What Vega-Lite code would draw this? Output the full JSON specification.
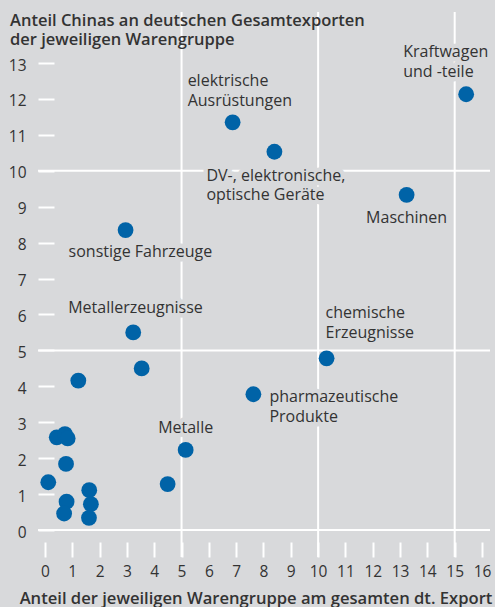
{
  "$schema": "https://vega.github.io/schema/vega-lite/v6.json",
  "width": 452,
  "height": 545,
  "autosize": {"type": "none"},
  "padding": {"left": 38, "top": 12, "right": 5, "bottom": 50},
  "background": "#d8d9db",
  "config": {"view": {"stroke": null}, "font": "Open Sans"},
  "datasets": {
    "punkte": [
      {"gruppe": "Kraftwagen und -teile", "label": ["Kraftwagen", "und -teile"], "x": 15.42, "y": 12.13},
      {"gruppe": "elektrische Ausrüstungen", "label": ["elektrische", "Ausrüstungen"], "x": 6.87, "y": 11.35},
      {"gruppe": "DV-, elektronische, optische Geräte", "label": ["DV-, elektronische,", "optische Geräte"], "x": 8.40, "y": 10.53},
      {"gruppe": "Maschinen", "label": ["Maschinen"], "x": 13.24, "y": 9.33},
      {"gruppe": "sonstige Fahrzeuge", "label": ["sonstige Fahrzeuge"], "x": 2.95, "y": 8.35},
      {"gruppe": "Metallerzeugnisse", "label": ["Metallerzeugnisse"], "x": 3.23, "y": 5.50},
      {"gruppe": "chemische Erzeugnisse", "label": ["chemische", "Erzeugnisse"], "x": 10.31, "y": 4.78},
      {"gruppe": "pharmazeutische Produkte", "label": ["pharmazeutische", "Produkte"], "x": 7.63, "y": 3.78},
      {"gruppe": "Metalle", "label": ["Metalle"], "x": 5.15, "y": 2.23},
      {"gruppe": "", "label": [], "x": 3.54, "y": 4.50},
      {"gruppe": "", "label": [], "x": 1.22, "y": 4.16},
      {"gruppe": "", "label": [], "x": 0.43, "y": 2.58},
      {"gruppe": "", "label": [], "x": 0.73, "y": 2.67},
      {"gruppe": "", "label": [], "x": 0.83, "y": 2.55},
      {"gruppe": "", "label": [], "x": 0.77, "y": 1.84},
      {"gruppe": "", "label": [], "x": 0.12, "y": 1.33},
      {"gruppe": "", "label": [], "x": 0.79, "y": 0.79},
      {"gruppe": "", "label": [], "x": 0.70, "y": 0.46},
      {"gruppe": "", "label": [], "x": 1.62, "y": 1.11},
      {"gruppe": "", "label": [], "x": 1.68, "y": 0.72},
      {"gruppe": "", "label": [], "x": 1.61, "y": 0.34},
      {"gruppe": "", "label": [], "x": 4.49, "y": 1.28}
    ],
    "gx": [{"x": 5}, {"x": 10}, {"x": 15}],
    "gy": [{"y": 0}, {"y": 5}, {"y": 10}]
  },
  "resolve": {"axis": {"x": "independent", "y": "independent"}},
  "layer": [
    {
      "data": {"name": "punkte"},
      "mark": {"type": "circle", "size": 0, "opacity": 0},
      "encoding": {
        "x": {"field": "x", "type": "quantitative", "scale": {"domain": [-0.256, 16.293], "nice": false, "zero": false},
          "axis": {"orient": "bottom", "values": [0, 1, 2, 3, 4, 5, 6, 7, 8, 9, 10, 11, 12, 13, 14, 15, 16], "domain": false, "grid": false,
            "tickColor": "white", "tickWidth": 2, "tickSize": -15, "labelPadding": 22, "labelFont": "Open Sans", "labelFontSize": 15.5, "labelColor": "#333333",
            "labelFlush": false, "labelOverlap": false,
            "title": "Anteil der jeweiligen Warengruppe am gesamten dt. Export", "titleFont": "Open Sans", "titleFontSize": 16.6, "titleFontWeight": 600, "titleColor": "#333333",
            "titleX": 217.5, "titleY": 46, "titleAlign": "center", "titleBaseline": "alphabetic"}},
        "y": {"field": "y", "type": "quantitative", "scale": {"domain": [-0.75, 14.42], "nice": false, "zero": false},
          "axis": {"orient": "left", "values": [], "domain": false, "ticks": false, "labels": false, "grid": false,
            "title": ["Anteil Chinas an deutschen Gesamtexporten", "der jeweiligen Warengruppe"],
            "titleAngle": 0, "titleAlign": "left", "titleBaseline": "alphabetic", "titleX": -28.5, "titleY": 13,
            "titleFont": "Open Sans", "titleFontSize": 16.5, "titleFontWeight": 600, "titleColor": "#d8d9db", "titleLineHeight": 19.5,
            "zindex": 1,
            "encode": {"title": {"update": {"stroke": {"value": "#d8d9db"}, "strokeWidth": {"value": 10}, "strokeJoin": {"value": "round"}}}}}}
      }
    },
    {
      "data": {"name": "punkte"},
      "mark": {"type": "circle", "size": 0, "opacity": 0},
      "encoding": {
        "x": {"field": "x", "type": "quantitative", "axis": null},
        "y": {"field": "y", "type": "quantitative",
          "axis": {"orient": "left", "values": [0, 1, 2, 3, 4, 5, 6, 7, 8, 9, 10, 11, 12, 13], "domain": false, "grid": false,
            "tickColor": "white", "tickWidth": 2, "tickSize": -16, "labelPadding": 28, "labelFont": "Open Sans", "labelFontSize": 15.5, "labelColor": "#333333", "labelOffset": 2,
            "title": ["Anteil Chinas an deutschen Gesamtexporten", "der jeweiligen Warengruppe"],
            "titleAngle": 0, "titleAlign": "left", "titleBaseline": "alphabetic", "titleX": -28.5, "titleY": 13,
            "titleFont": "Open Sans", "titleFontSize": 16.5, "titleFontWeight": 600, "titleColor": "#333333", "titleLineHeight": 19.5,
            "zindex": 1}}
      }
    },
    {
      "data": {"name": "gx"},
      "mark": {"type": "rule", "color": "white", "strokeWidth": 2},
      "encoding": {
        "x": {"field": "x", "type": "quantitative", "axis": null}
      }
    },
    {
      "data": {"name": "gy"},
      "mark": {"type": "rule", "color": "white", "strokeWidth": 2},
      "encoding": {
        "y": {"field": "y", "type": "quantitative", "axis": null}
      }
    },
    {"data": {"name": "punkte"}, "transform": [{"filter": "datum.gruppe === 'Kraftwagen und -teile'"}],
     "mark": {"type": "text", "align": "left", "baseline": "alphabetic", "dx": -63, "dy": -37, "lineHeight": 19.5, "font": "Open Sans", "fontSize": 16, "color": "#d8d9db", "stroke": "#d8d9db", "strokeWidth": 9, "strokeJoin": "round"},
     "encoding": {"x": {"field": "x", "type": "quantitative", "axis": null}, "y": {"field": "y", "type": "quantitative", "axis": null}, "text": {"field": "label"}}},
    {"data": {"name": "punkte"}, "transform": [{"filter": "datum.gruppe === 'elektrische Ausrüstungen'"}],
     "mark": {"type": "text", "align": "left", "baseline": "alphabetic", "dx": -45, "dy": -36, "lineHeight": 19.5, "font": "Open Sans", "fontSize": 16, "color": "#d8d9db", "stroke": "#d8d9db", "strokeWidth": 9, "strokeJoin": "round"},
     "encoding": {"x": {"field": "x", "type": "quantitative", "axis": null}, "y": {"field": "y", "type": "quantitative", "axis": null}, "text": {"field": "label"}}},
    {"data": {"name": "punkte"}, "transform": [{"filter": "datum.gruppe === 'DV-, elektronische, optische Geräte'"}],
     "mark": {"type": "text", "align": "left", "baseline": "alphabetic", "dx": -68, "dy": 29, "lineHeight": 19.5, "font": "Open Sans", "fontSize": 16, "color": "#d8d9db", "stroke": "#d8d9db", "strokeWidth": 9, "strokeJoin": "round"},
     "encoding": {"x": {"field": "x", "type": "quantitative", "axis": null}, "y": {"field": "y", "type": "quantitative", "axis": null}, "text": {"field": "label"}}},
    {"data": {"name": "punkte"}, "transform": [{"filter": "datum.gruppe === 'Maschinen'"}],
     "mark": {"type": "text", "align": "center", "baseline": "alphabetic", "dx": 0, "dy": 28, "lineHeight": 19.5, "font": "Open Sans", "fontSize": 16, "color": "#d8d9db", "stroke": "#d8d9db", "strokeWidth": 9, "strokeJoin": "round"},
     "encoding": {"x": {"field": "x", "type": "quantitative", "axis": null}, "y": {"field": "y", "type": "quantitative", "axis": null}, "text": {"field": "label"}}},
    {"data": {"name": "punkte"}, "transform": [{"filter": "datum.gruppe === 'sonstige Fahrzeuge'"}],
     "mark": {"type": "text", "align": "left", "baseline": "alphabetic", "dx": -57, "dy": 27, "lineHeight": 19.5, "font": "Open Sans", "fontSize": 16, "color": "#d8d9db", "stroke": "#d8d9db", "strokeWidth": 9, "strokeJoin": "round"},
     "encoding": {"x": {"field": "x", "type": "quantitative", "axis": null}, "y": {"field": "y", "type": "quantitative", "axis": null}, "text": {"field": "label"}}},
    {"data": {"name": "punkte"}, "transform": [{"filter": "datum.gruppe === 'Metallerzeugnisse'"}],
     "mark": {"type": "text", "align": "left", "baseline": "alphabetic", "dx": -65, "dy": -19, "lineHeight": 19.5, "font": "Open Sans", "fontSize": 16, "color": "#d8d9db", "stroke": "#d8d9db", "strokeWidth": 9, "strokeJoin": "round"},
     "encoding": {"x": {"field": "x", "type": "quantitative", "axis": null}, "y": {"field": "y", "type": "quantitative", "axis": null}, "text": {"field": "label"}}},
    {"data": {"name": "punkte"}, "transform": [{"filter": "datum.gruppe === 'chemische Erzeugnisse'"}],
     "mark": {"type": "text", "align": "left", "baseline": "alphabetic", "dx": -1, "dy": -40, "lineHeight": 19.5, "font": "Open Sans", "fontSize": 16, "color": "#d8d9db", "stroke": "#d8d9db", "strokeWidth": 9, "strokeJoin": "round"},
     "encoding": {"x": {"field": "x", "type": "quantitative", "axis": null}, "y": {"field": "y", "type": "quantitative", "axis": null}, "text": {"field": "label"}}},
    {"data": {"name": "punkte"}, "transform": [{"filter": "datum.gruppe === 'pharmazeutische Produkte'"}],
     "mark": {"type": "text", "align": "left", "baseline": "alphabetic", "dx": 16, "dy": 8, "lineHeight": 19.5, "font": "Open Sans", "fontSize": 16, "color": "#d8d9db", "stroke": "#d8d9db", "strokeWidth": 9, "strokeJoin": "round"},
     "encoding": {"x": {"field": "x", "type": "quantitative", "axis": null}, "y": {"field": "y", "type": "quantitative", "axis": null}, "text": {"field": "label"}}},
    {"data": {"name": "punkte"}, "transform": [{"filter": "datum.gruppe === 'Metalle'"}],
     "mark": {"type": "text", "align": "center", "baseline": "alphabetic", "dx": 0, "dy": -17, "lineHeight": 19.5, "font": "Open Sans", "fontSize": 16, "color": "#d8d9db", "stroke": "#d8d9db", "strokeWidth": 9, "strokeJoin": "round"},
     "encoding": {"x": {"field": "x", "type": "quantitative", "axis": null}, "y": {"field": "y", "type": "quantitative", "axis": null}, "text": {"field": "label"}}},
    {"data": {"name": "punkte"},
     "mark": {"type": "circle", "size": 250, "opacity": 1, "color": "#0063a7"},
     "encoding": {"x": {"field": "x", "type": "quantitative", "axis": null}, "y": {"field": "y", "type": "quantitative", "axis": null}}},
    {"data": {"name": "punkte"}, "transform": [{"filter": "datum.gruppe === 'Kraftwagen und -teile'"}],
     "mark": {"type": "text", "align": "left", "baseline": "alphabetic", "dx": -63, "dy": -37, "lineHeight": 19.5, "font": "Open Sans", "fontSize": 16, "color": "#333333"},
     "encoding": {"x": {"field": "x", "type": "quantitative", "axis": null}, "y": {"field": "y", "type": "quantitative", "axis": null}, "text": {"field": "label"}}},
    {"data": {"name": "punkte"}, "transform": [{"filter": "datum.gruppe === 'elektrische Ausrüstungen'"}],
     "mark": {"type": "text", "align": "left", "baseline": "alphabetic", "dx": -45, "dy": -36, "lineHeight": 19.5, "font": "Open Sans", "fontSize": 16, "color": "#333333"},
     "encoding": {"x": {"field": "x", "type": "quantitative", "axis": null}, "y": {"field": "y", "type": "quantitative", "axis": null}, "text": {"field": "label"}}},
    {"data": {"name": "punkte"}, "transform": [{"filter": "datum.gruppe === 'DV-, elektronische, optische Geräte'"}],
     "mark": {"type": "text", "align": "left", "baseline": "alphabetic", "dx": -68, "dy": 29, "lineHeight": 19.5, "font": "Open Sans", "fontSize": 16, "color": "#333333"},
     "encoding": {"x": {"field": "x", "type": "quantitative", "axis": null}, "y": {"field": "y", "type": "quantitative", "axis": null}, "text": {"field": "label"}}},
    {"data": {"name": "punkte"}, "transform": [{"filter": "datum.gruppe === 'Maschinen'"}],
     "mark": {"type": "text", "align": "center", "baseline": "alphabetic", "dx": 0, "dy": 28, "lineHeight": 19.5, "font": "Open Sans", "fontSize": 16, "color": "#333333"},
     "encoding": {"x": {"field": "x", "type": "quantitative", "axis": null}, "y": {"field": "y", "type": "quantitative", "axis": null}, "text": {"field": "label"}}},
    {"data": {"name": "punkte"}, "transform": [{"filter": "datum.gruppe === 'sonstige Fahrzeuge'"}],
     "mark": {"type": "text", "align": "left", "baseline": "alphabetic", "dx": -57, "dy": 27, "lineHeight": 19.5, "font": "Open Sans", "fontSize": 16, "color": "#333333"},
     "encoding": {"x": {"field": "x", "type": "quantitative", "axis": null}, "y": {"field": "y", "type": "quantitative", "axis": null}, "text": {"field": "label"}}},
    {"data": {"name": "punkte"}, "transform": [{"filter": "datum.gruppe === 'Metallerzeugnisse'"}],
     "mark": {"type": "text", "align": "left", "baseline": "alphabetic", "dx": -65, "dy": -19, "lineHeight": 19.5, "font": "Open Sans", "fontSize": 16, "color": "#333333"},
     "encoding": {"x": {"field": "x", "type": "quantitative", "axis": null}, "y": {"field": "y", "type": "quantitative", "axis": null}, "text": {"field": "label"}}},
    {"data": {"name": "punkte"}, "transform": [{"filter": "datum.gruppe === 'chemische Erzeugnisse'"}],
     "mark": {"type": "text", "align": "left", "baseline": "alphabetic", "dx": -1, "dy": -40, "lineHeight": 19.5, "font": "Open Sans", "fontSize": 16, "color": "#333333"},
     "encoding": {"x": {"field": "x", "type": "quantitative", "axis": null}, "y": {"field": "y", "type": "quantitative", "axis": null}, "text": {"field": "label"}}},
    {"data": {"name": "punkte"}, "transform": [{"filter": "datum.gruppe === 'pharmazeutische Produkte'"}],
     "mark": {"type": "text", "align": "left", "baseline": "alphabetic", "dx": 16, "dy": 8, "lineHeight": 19.5, "font": "Open Sans", "fontSize": 16, "color": "#333333"},
     "encoding": {"x": {"field": "x", "type": "quantitative", "axis": null}, "y": {"field": "y", "type": "quantitative", "axis": null}, "text": {"field": "label"}}},
    {"data": {"name": "punkte"}, "transform": [{"filter": "datum.gruppe === 'Metalle'"}],
     "mark": {"type": "text", "align": "center", "baseline": "alphabetic", "dx": 0, "dy": -17, "lineHeight": 19.5, "font": "Open Sans", "fontSize": 16, "color": "#333333"},
     "encoding": {"x": {"field": "x", "type": "quantitative", "axis": null}, "y": {"field": "y", "type": "quantitative", "axis": null}, "text": {"field": "label"}}}
  ]
}
